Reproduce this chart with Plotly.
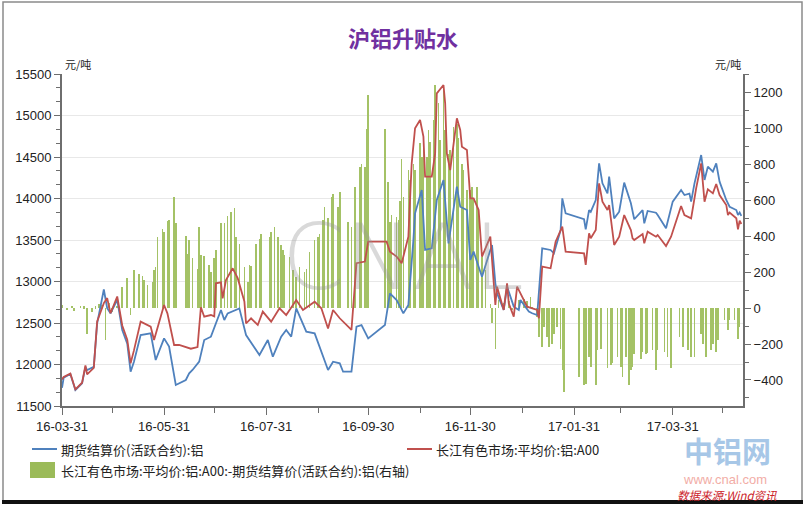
import plotly.graph_objects as go

# ---------------- data ----------------
title_text = "沪铝升贴水"
blue_name = "期货结算价(活跃合约):铝"
red_name = "长江有色市场:平均价:铝:A00"
bar_name = "长江有色市场:平均价:铝:A00:-期货结算价(活跃合约):铝(右轴)"

blue_dates = ["2016-03-31","2016-04-01","2016-04-05","2016-04-08","2016-04-12","2016-04-14","2016-04-15","2016-04-19",
"2016-04-21","2016-04-25","2016-04-27","2016-04-29","2016-05-03","2016-05-06","2016-05-09","2016-05-11","2016-05-13",
"2016-05-17","2016-05-23","2016-05-26","2016-05-31","2016-06-03","2016-06-07","2016-06-13","2016-06-15","2016-06-17",
"2016-06-21","2016-06-24","2016-06-28","2016-07-01","2016-07-04","2016-07-06","2016-07-08","2016-07-15","2016-07-19",
"2016-07-27","2016-08-01","2016-08-04","2016-08-09","2016-08-12","2016-08-15","2016-08-18","2016-08-24","2016-08-29",
"2016-09-06","2016-09-09","2016-09-13","2016-09-15","2016-09-20","2016-09-23","2016-09-26","2016-09-30","2016-10-10",
"2016-10-13","2016-10-17","2016-10-21","2016-10-24","2016-10-27","2016-10-28","2016-11-01","2016-11-03","2016-11-07",
"2016-11-10","2016-11-14","2016-11-17","2016-11-22","2016-11-24","2016-11-28","2016-11-30","2016-12-02","2016-12-07",
"2016-12-12","2016-12-13","2016-12-15","2016-12-16","2016-12-20","2016-12-22","2016-12-26","2016-12-29","2016-12-30",
"2017-01-04","2017-01-06","2017-01-09","2017-01-12","2017-01-17","2017-01-19","2017-01-23","2017-01-24","2017-01-26",
"2017-02-06","2017-02-07","2017-02-09","2017-02-10","2017-02-13","2017-02-15","2017-02-17","2017-02-20","2017-02-21",
"2017-02-24","2017-02-27","2017-03-02","2017-03-06","2017-03-08","2017-03-13","2017-03-14","2017-03-16","2017-03-21",
"2017-03-22","2017-03-27","2017-03-31","2017-04-05","2017-04-07","2017-04-10","2017-04-11","2017-04-13","2017-04-17",
"2017-04-19","2017-04-21","2017-04-24","2017-04-26","2017-04-28","2017-05-02","2017-05-04","2017-05-08","2017-05-09",
"2017-05-10","2017-05-11"]
blue_vals = [11720,11840,11885,11693,11773,11972,11933,11972,
12494,12904,12680,12617,12780,12416,12250,11913,12034,
12355,12375,12054,12315,12215,11753,11813,11893,11934,
12034,12295,12335,12496,12657,12536,12616,12676,12355,
12115,12295,12094,12335,12416,12335,12676,12396,12375,
11934,12034,12014,11913,11913,12455,12475,12315,12475,
12857,12777,12616,12716,13500,13821,14102,13380,13400,
13982,14223,13460,14142,13901,13861,13259,13360,13058,
13380,13440,12978,12858,12657,12938,12697,12657,12777,
12637,12617,12596,13400,13380,13340,13620,14002,13821,
13750,13629,13861,13840,13982,14424,14183,14062,14263,
13761,13841,14191,13942,13750,13861,13701,13850,13829,
13800,13641,13962,14102,14042,14060,13962,14183,14524,
14223,14383,14323,14424,14203,13982,13901,13861,13801,
13830,13790]

red_dates = ["2016-03-31","2016-04-01","2016-04-05","2016-04-08","2016-04-12","2016-04-14","2016-04-15","2016-04-19",
"2016-04-21","2016-04-25","2016-04-27","2016-04-29","2016-05-03","2016-05-06","2016-05-09","2016-05-11","2016-05-13",
"2016-05-17","2016-05-23","2016-05-25","2016-05-31","2016-06-02","2016-06-06","2016-06-09","2016-06-16","2016-06-20",
"2016-06-22","2016-06-24","2016-06-28","2016-06-30","2016-07-01","2016-07-04","2016-07-05","2016-07-07","2016-07-11",
"2016-07-14","2016-07-18","2016-07-19","2016-07-22","2016-07-26","2016-07-29","2016-08-03","2016-08-08","2016-08-12",
"2016-08-18","2016-08-22","2016-08-29","2016-09-02","2016-09-06","2016-09-09","2016-09-13","2016-09-20","2016-09-23",
"2016-09-28","2016-09-30","2016-10-11","2016-10-13","2016-10-17","2016-10-20","2016-10-24","2016-10-26","2016-10-28",
"2016-10-31","2016-11-02","2016-11-03","2016-11-07","2016-11-09","2016-11-10","2016-11-14","2016-11-15","2016-11-16",
"2016-11-18","2016-11-22","2016-11-24","2016-11-25","2016-11-28","2016-11-30","2016-12-02","2016-12-05","2016-12-07",
"2016-12-12","2016-12-14","2016-12-15","2016-12-16","2016-12-20","2016-12-22","2016-12-23","2016-12-26","2016-12-28",
"2016-12-30","2017-01-03","2017-01-09","2017-01-10","2017-01-12","2017-01-17","2017-01-20","2017-01-24","2017-01-26",
"2017-02-06","2017-02-07","2017-02-09","2017-02-10","2017-02-13","2017-02-15","2017-02-17","2017-02-20","2017-02-21",
"2017-02-24","2017-02-27","2017-03-02","2017-03-06","2017-03-07","2017-03-08","2017-03-13","2017-03-14","2017-03-16",
"2017-03-21","2017-03-22","2017-03-27","2017-03-30","2017-04-05","2017-04-07","2017-04-11","2017-04-14","2017-04-17",
"2017-04-19","2017-04-21","2017-04-24","2017-04-26","2017-04-28","2017-05-02","2017-05-03","2017-05-04","2017-05-08",
"2017-05-09","2017-05-10","2017-05-11"]
red_vals = [11820,11850,11890,11700,11780,11990,11880,11960,
12520,12740,12800,12617,12819,12470,12300,12015,12170,
12516,12456,12295,12717,12617,12235,12235,12190,12210,
12690,12576,12596,12580,12978,12990,12797,13018,13159,
13040,12760,12494,12557,12476,12637,12516,12677,12596,
12777,12657,12757,12677,12434,12657,12557,12416,13220,
13240,13480,13480,13360,13300,13220,13540,14424,14846,
14946,14745,14263,14263,14544,15267,15367,15147,14544,
14343,14966,14825,14624,14584,14002,14002,13861,13299,
13540,13058,12717,12938,12657,12978,12737,12576,12938,
12858,12697,12657,12557,13179,13159,13480,13661,13360,
13340,13199,13581,13520,13620,14183,13962,13861,13920,
13440,13540,13801,13620,13520,13500,13572,13460,13601,
13540,13560,13428,13540,13910,13801,13761,14122,14424,
13962,14110,14062,14175,14042,13922,13801,13830,13761,
13629,13733,13693]

bar_dates = ["2016-03-31","2016-04-03","2016-04-06","2016-04-07","2016-04-11","2016-04-13","2016-04-15","2016-04-18",
"2016-04-20","2016-04-22","2016-04-24","2016-04-26","2016-04-28","2016-04-30","2016-05-03","2016-05-06","2016-05-09",
"2016-05-11","2016-05-13","2016-05-16","2016-05-18","2016-05-19","2016-05-21","2016-05-24","2016-05-25","2016-05-26",
"2016-05-27","2016-05-30","2016-05-31","2016-06-02","2016-06-03","2016-06-06","2016-06-07","2016-06-13","2016-06-14",
"2016-06-15","2016-06-17","2016-06-20","2016-06-21","2016-06-22","2016-06-24","2016-06-27","2016-06-28","2016-06-30",
"2016-07-01","2016-07-04","2016-07-06","2016-07-08","2016-07-10","2016-07-12","2016-07-13","2016-07-15","2016-07-18",
"2016-07-20","2016-07-21","2016-07-22","2016-07-25","2016-07-27","2016-07-28","2016-08-02","2016-08-03","2016-08-05",
"2016-08-07","2016-08-09","2016-08-10","2016-08-11","2016-08-14","2016-08-16","2016-08-18","2016-08-20","2016-08-23",
"2016-08-24","2016-08-26","2016-08-29","2016-08-31","2016-09-01","2016-09-03","2016-09-04","2016-09-06","2016-09-08",
"2016-09-09","2016-09-12","2016-09-13","2016-09-18","2016-09-20","2016-09-22","2016-09-25","2016-09-26","2016-09-28",
"2016-09-29","2016-09-30","2016-10-10","2016-10-12","2016-10-13","2016-10-14","2016-10-17","2016-10-18","2016-10-19",
"2016-10-20","2016-10-21","2016-10-24","2016-10-25","2016-10-27","2016-10-28","2016-10-31","2016-11-01","2016-11-02",
"2016-11-04","2016-11-05","2016-11-06","2016-11-08","2016-11-09","2016-11-11","2016-11-12","2016-11-14","2016-11-15",
"2016-11-17","2016-11-18","2016-11-20","2016-11-22","2016-11-23","2016-11-25","2016-11-26","2016-11-28","2016-11-30",
"2016-12-01","2016-12-02","2016-12-04","2016-12-05","2016-12-07","2016-12-09","2016-12-12","2016-12-13","2016-12-15",
"2016-12-17","2016-12-20","2016-12-23","2016-12-25","2016-12-29","2017-01-01","2017-01-03","2017-01-05","2017-01-06",
"2017-01-09","2017-01-10","2017-01-12","2017-01-13","2017-01-15","2017-01-16","2017-01-18","2017-01-19","2017-01-21",
"2017-01-23","2017-01-24","2017-01-25","2017-02-03","2017-02-06","2017-02-07","2017-02-09","2017-02-10","2017-02-13",
"2017-02-14","2017-02-16","2017-02-20","2017-02-22","2017-02-23","2017-02-26","2017-02-28","2017-03-01","2017-03-03",
"2017-03-05","2017-03-06","2017-03-07","2017-03-08","2017-03-12","2017-03-13","2017-03-15","2017-03-16","2017-03-19",
"2017-03-21","2017-03-22","2017-03-26","2017-03-28","2017-03-30","2017-04-04","2017-04-06","2017-04-09","2017-04-11",
"2017-04-13","2017-04-17","2017-04-18","2017-04-20","2017-04-23","2017-04-24","2017-04-26","2017-04-27","2017-05-01",
"2017-05-03","2017-05-04","2017-05-07","2017-05-09","2017-05-10"]
bar_vals = [20,-10,15,-15,15,10,-141,-20,
10,25,20,-178,30,-20,15,119,171,
-39,212,193,178,156,128,147,212,230,
398,444,425,487,494,620,476,401,301,
379,282,221,450,295,290,240,203,282,
327,472,472,515,537,556,398,360,230,
147,240,234,360,388,416,398,425,453,
398,351,323,295,286,212,175,230,203,
221,314,379,398,416,490,565,500,621,
639,565,648,481,453,676,788,806,788,
1001,1187,1001,704,481,518,509,490,600,
834,621,769,713,806,769,918,843,890,
843,992,927,1048,1243,1141,937,1215,992,
862,880,1011,1029,946,806,769,658,658,
676,602,676,546,286,212,26,-85,-225,
45,30,40,-11,45,50,40,63,7,
-48,-160,-215,-104,-160,-215,-197,-141,-104,
-225,-346,-466,-383,-429,-420,-271,-327,-429,
-234,-225,-336,-318,-308,-271,-327,-383,-271,
-429,-346,-327,-253,-281,-243,-253,-249,-234,
-346,-234,-243,-271,-336,-160,-216,-234,-271,
-271,-141,-197,-271,-234,-197,-243,-178,-67,
-123,-67,-67,-169,-104]

x_tick_vals = ["2016-03-31","2016-05-31","2016-07-31","2016-09-30","2016-11-30","2017-01-31","2017-03-31"]
x_tick_text = ["16-03-31","16-05-31","16-07-31","16-09-30","16-11-30","17-01-31","17-03-31"]
x_minor_vals = ["2016-04-30","2016-06-30","2016-08-31","2016-10-31","2016-12-31","2017-02-28","2017-04-30"]

# ---------------- styling ----------------
BLUE = "#4F81BD"
RED = "#C0504D"
GREEN = "#9BBB59"
BAR_GREEN = "#A4C266"
AXIS = "#6e6e6e"
TXT = "#222222"
CJK = "Noto Sans CJK SC"
LAT = "Liberation Sans, Arial, sans-serif"

W_FIG, H_FIG = 807, 507
L, R, T, B = 62, 743, 74, 406
PW, PH = R - L, B - T

def fx(px):
    return (px - L) / PW

def fy(py):
    return (B - py) / PH

fig = go.Figure()

fig.add_trace(go.Bar(
    x=bar_dates, y=bar_vals, name=bar_name, yaxis="y",
    marker=dict(color=BAR_GREEN, line=dict(width=0)),
    width=0.35 * 86400000, showlegend=False,
))
fig.add_trace(go.Scatter(
    x=blue_dates, y=blue_vals, name=blue_name, yaxis="y2", mode="lines",
    line=dict(color=BLUE, width=1.8), showlegend=False,
))
fig.add_trace(go.Scatter(
    x=red_dates, y=red_vals, name=red_name, yaxis="y2", mode="lines",
    line=dict(color=RED, width=1.8), showlegend=False,
))

tickfont = dict(family=LAT, size=13, color=TXT)

fig.update_layout(
    width=W_FIG, height=H_FIG,
    margin=dict(l=L, r=W_FIG - R, t=T, b=H_FIG - B, pad=0),
    paper_bgcolor="white", plot_bgcolor="white",
    showlegend=False, bargap=0,
    xaxis=dict(
        type="date", range=["2016-03-31", "2017-05-12"],
        tickmode="array", tickvals=x_tick_vals, ticktext=x_tick_text,
        ticks="outside", ticklen=7, tickwidth=1, tickcolor=AXIS,
        showline=True, linecolor=AXIS, linewidth=2,
        showgrid=False, zeroline=False, tickfont=tickfont, automargin=False,
        minor=dict(tickmode="array", tickvals=x_minor_vals, ticks="outside",
                   ticklen=5, tickcolor=AXIS, showgrid=False),
    ),
    yaxis=dict(
        side="right", range=[-545, 1305],
        tickmode="linear", tick0=0, dtick=200, tickformat="d",
        ticks="outside", ticklen=6, tickcolor=AXIS,
        showline=True, linecolor=AXIS, linewidth=2,
        showgrid=False, zeroline=False, tickfont=tickfont, automargin=False,
        minor=dict(dtick=100, tick0=0, ticks="outside", ticklen=4,
                   tickcolor=AXIS, showgrid=False),
    ),
    yaxis2=dict(
        overlaying="y", side="left", range=[11500, 15500],
        tickmode="linear", tick0=11500, dtick=500, tickformat="d",
        ticks="outside", ticklen=6, tickcolor=AXIS,
        showline=True, linecolor=AXIS, linewidth=2,
        showgrid=True, gridcolor="#e8e8e8", gridwidth=1,
        zeroline=False, tickfont=tickfont, automargin=False,
        minor=dict(dtick=500 / 3, tick0=11500, ticks="outside", ticklen=4,
                   tickcolor=AXIS, showgrid=False),
    ),
)

shapes = []
# outer frame
shapes.append(dict(type="rect", xref="paper", yref="paper",
                   x0=fx(3), x1=fx(802), y0=fy(502), y1=fy(2),
                   line=dict(color="#8a8a8a", width=1.5), fillcolor="rgba(0,0,0,0)",
                   layer="below"))
shapes.append(dict(type="line", xref="paper", yref="paper",
                   x0=fx(2), x1=fx(803), y0=fy(502), y1=fy(502),
                   line=dict(color="#111111", width=4)))
# legend keys
shapes.append(dict(type="line", xref="paper", yref="paper",
                   x0=fx(32), x1=fx(57), y0=fy(449), y1=fy(449),
                   line=dict(color=BLUE, width=2)))
shapes.append(dict(type="line", xref="paper", yref="paper",
                   x0=fx(407), x1=fx(432), y0=fy(449), y1=fy(449),
                   line=dict(color=RED, width=2)))
shapes.append(dict(type="rect", xref="paper", yref="paper",
                   x0=fx(30), x1=fx(55), y0=fy(478), y1=fy(462),
                   line=dict(width=0), fillcolor=GREEN))
fig.update_layout(shapes=shapes)

ann = []
def text(px, py, s, size, color, xanchor="left", yanchor="middle", family=CJK, **kw):
    ann.append(dict(xref="paper", yref="paper", x=fx(px), y=fy(py), text=s,
                    showarrow=False, xanchor=xanchor, yanchor=yanchor,
                    font=dict(family=family, size=size, color=color, **kw)))

# watermark
text(403, 257, "CNAL", 90, "rgba(150,150,150,0.36)", xanchor="center",
     family="DejaVu Sans, sans-serif", weight=200)
# title
text(403, 37, "<b>" + title_text + "</b>", 22, "#7030A0", xanchor="center")
# units
text(63, 74, "元/吨", 11, TXT, xanchor="left", yanchor="bottom")
text(743, 74, "元/吨", 11, TXT, xanchor="right", yanchor="bottom")
# legend labels
text(59, 449, blue_name, 13, TXT)
text(434, 449, red_name, 13, TXT)
text(59, 470, bar_name, 13, TXT)
# logo / source
text(727, 450, "<b>中铝网</b>", 29, "#A7C7E7", xanchor="center")
text(725, 479.5, "www.cnal.com", 13, "#F2ADA6", xanchor="center", family=LAT)
text(727, 495, "<i>数据来源:Wind资讯</i>", 11.5, "#CC2229", xanchor="center")

fig.update_layout(annotations=ann)

fig.write_html("out.html")
